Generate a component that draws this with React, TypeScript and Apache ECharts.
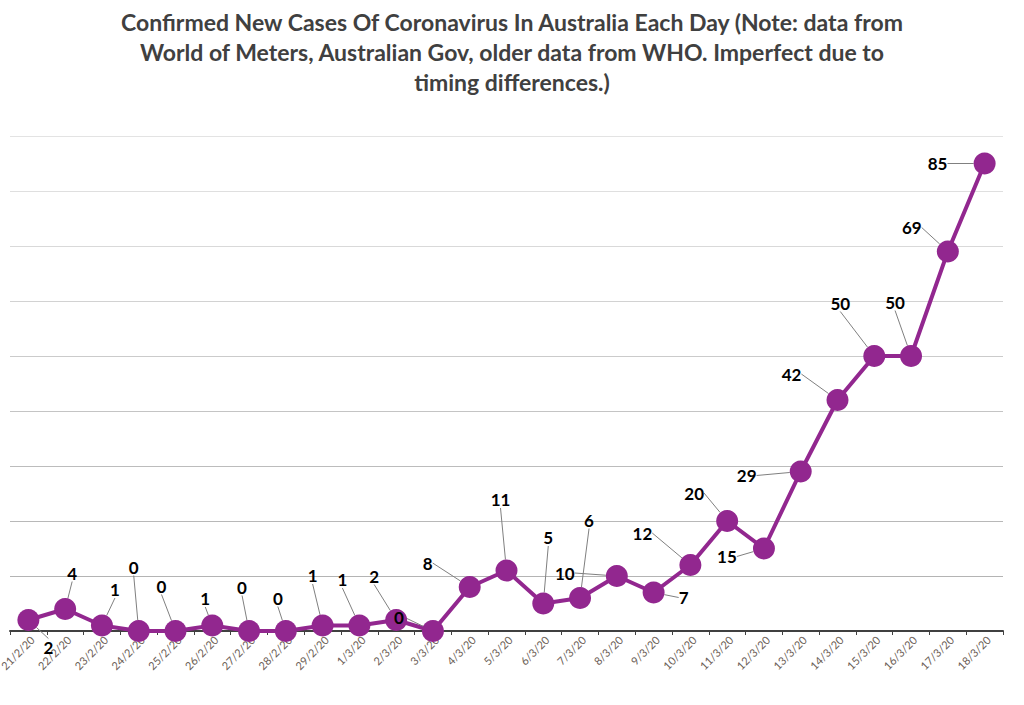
import React, { useEffect, useRef } from "react";
import * as echarts from "echarts";

const categories = [
  "21/2/20", "22/2/20", "23/2/20", "24/2/20", "25/2/20", "26/2/20", "27/2/20",
  "28/2/20", "29/2/20", "1/3/20", "2/3/20", "3/3/20", "4/3/20", "5/3/20",
  "6/3/20", "7/3/20", "8/3/20", "9/3/20", "10/3/20", "11/3/20", "12/3/20",
  "13/3/20", "14/3/20", "15/3/20", "16/3/20", "17/3/20", "18/3/20",
];

const newCases = [2, 4, 1, 0, 0, 1, 0, 0, 1, 1, 2, 0, 8, 11, 5, 6, 10, 7, 12, 20, 15, 29, 42, 50, 50, 69, 85];

// label offsets (dx, dy) from each point, for the callout labels
const labelOffsets: [number, number][] = [
  [20, 27], [7, -36], [13, -36], [-5, -64], [-14, -45], [-7, -27], [-7, -44],
  [-8, -33], [-10, -50], [-17, -46], [-22, -44], [-34, -14], [-42, -24], [-6, -71],
  [5, -66], [9, -78], [-52, -3], [30, 5], [-48, -32], [-33, -28], [-37, 8],
  [-54, 4], [-46, -26], [-34, -53], [-16, -54], [-36, -24], [-47, 0],
];

const titleText =
  "Confirmed New Cases Of Coronavirus In Australia Each Day (Note: data from\nWorld of Meters, Australian Gov, older data from WHO. Imperfect due to\ntiming differences.)";

export default function App() {
  const ref = useRef<HTMLDivElement>(null);
  useEffect(() => {
    document.body.style.margin = "0";
    const chart = echarts.init(ref.current!, null, { renderer: "svg" });
    chart.setOption({
      animation: false,
      backgroundColor: "#ffffff",
      title: {
        text: titleText,
        left: "center",
        top: 2,
        textStyle: {
          fontFamily: "Lato",
          fontWeight: "bold",
          fontSize: 23,
          lineHeight: 30,
          color: "#404040",
        },
      },
      grid: {
        left: 10,
        right: 21,
        top: 136,
        bottom: 74,
        containLabel: false,
        outerBoundsMode: "none",
      },
      xAxis: {
        type: "category",
        data: categories,
        boundaryGap: true,
        axisLine: { show: true, lineStyle: { color: "#404040", width: 2 } },
        axisTick: { show: true, interval: 0, length: 4, lineStyle: { color: "#404040", width: 1 } },
        axisLabel: {
          interval: 0,
          rotate: 45,
          verticalAlign: "top",
          fontFamily: "Lato",
          fontSize: 11,
          color: "#6a5d55",
          margin: 3,
        },
      },
      yAxis: {
        type: "value",
        min: 0,
        max: 90,
        interval: 10,
        axisLine: { show: false },
        axisTick: { show: false },
        axisLabel: { show: false },
        splitLine: {
          show: true,
          lineStyle: {
            width: 1,
            color: [
              "#b0b0b0", "#b4b4b4", "#b8b8b8", "#bcbcbc", "#c4c4c4",
              "#cbcbcb", "#d2d2d2", "#d9d9d9", "#dfdfdf", "#e3e3e3",
            ],
          },
        },
      },
      series: [
        {
          type: "line",
          data: newCases,
          symbol: "circle",
          symbolSize: 22,
          itemStyle: { color: "#92278f" },
          lineStyle: { color: "#92278f", width: 4 },
          label: {
            show: true,
            position: "inside",
            fontFamily: "Lato",
            fontWeight: "bold",
            fontSize: 17,
            color: "#000000",
          },
          labelLine: {
            show: true,
            showAbove: false,
            lineStyle: { color: "#808080", width: 1 },
          },
          labelLayout: (params: any) => {
            const o = labelOffsets[params.dataIndex] || [0, -20];
            return { dx: o[0], dy: o[1] };
          },
        },
      ],
    });
    return () => chart.dispose();
  }, []);
  return <div ref={ref} style={{ width: 1024, height: 705 }} />;
}
